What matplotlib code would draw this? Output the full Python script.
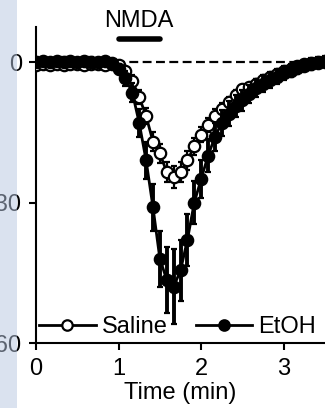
import numpy as np
import matplotlib
matplotlib.use("Agg")
import matplotlib.pyplot as plt
from matplotlib.patches import Rectangle

# time points every 5 s (min)
time_min = np.arange(43) / 12.0

saline = [-0.6, -0.4, -0.7, -0.5, -0.6, -0.3, -0.5, -0.7, -0.4, -0.5, -0.6, -0.4,
          -0.6, -2.0, -4.0, -7.5, -11.5, -17.0, -19.5, -23.5, -24.5, -23.5, -21.0,
          -18.0, -15.5, -13.5, -11.5, -10.0, -8.6, -7.0, -5.8, -5.4, -4.6, -3.9,
          -3.2, -2.6, -1.9, -1.4, -0.9, -0.5, -0.2, 0.0, 0.1]
saline_sem = [0.6, 0.5, 0.6, 0.5, 0.6, 0.5, 0.6, 0.5, 0.6, 0.5, 0.6, 0.5,
              0.7, 1.0, 1.2, 1.5, 1.8, 2.0, 2.0, 2.2, 2.3, 2.2, 2.0,
              1.8, 1.6, 1.5, 1.4, 1.3, 1.2, 1.1, 1.0, 1.0, 0.9, 0.9,
              0.8, 0.8, 0.7, 0.7, 0.6, 0.6, 0.6, 0.5, 0.5]

etoh = [0.1, 0.2, 0.0, 0.3, 0.1, 0.2, 0.0, 0.3, 0.1, 0.0, 0.2, -0.2,
        -1.5, -3.5, -6.5, -13.0, -21.0, -31.0, -42.0, -46.5, -48.0, -44.5, -38.0,
        -30.0, -25.0, -20.0, -16.0, -13.0, -11.0, -9.4, -8.2, -6.8, -5.6, -4.6,
        -3.8, -3.1, -2.4, -1.8, -1.2, -0.8, -0.4, -0.1, 0.2]
etoh_sem = [0.9, 0.8, 0.9, 0.8, 0.9, 0.8, 0.9, 0.8, 0.9, 0.8, 0.9, 0.9,
            1.0, 1.5, 2.0, 3.0, 4.0, 5.0, 6.0, 7.0, 8.0, 6.5, 5.5,
            4.5, 4.0, 3.5, 3.0, 2.8, 2.6, 2.4, 2.2, 2.0, 1.9, 1.8,
            1.7, 1.6, 1.5, 1.4, 1.3, 1.2, 1.2, 1.1, 1.0]

nmda_on = [1.0, 1.5]

plt.rcParams['font.family'] = ['Liberation Sans', 'DejaVu Sans']
FS = 17

fig = plt.figure(figsize=(3.25, 4.08), dpi=100)
ax = fig.add_axes([36 / 325, 65 / 408, 289 / 325, 316 / 408])

ax.axhline(0, color='black', lw=1.6, ls=(0, (4, 2)), zorder=1)

ax.errorbar(time_min, saline, yerr=saline_sem, color='black', lw=2,
            marker='o', ms=8.2, mfc='white', mec='black', mew=1.6,
            elinewidth=1.6, capsize=2, capthick=1.6, zorder=3)
ax.errorbar(time_min, etoh, yerr=etoh_sem, color='black', lw=2,
            marker='o', ms=8.2, mfc='black', mec='black', mew=1.6,
            elinewidth=2.8, capsize=2, capthick=1.6, zorder=4)

# legend handles
h1, = ax.plot([], [], color='black', lw=2, marker='o', ms=7.5, mfc='white', mew=1.6)
h2, = ax.plot([], [], color='black', lw=2, marker='o', ms=7.5, mfc='black', mew=1.6)
ax.legend([h1, h2], ['Saline', 'EtOH'], ncol=2, frameon=False, fontsize=FS,
          loc='center left', bbox_to_anchor=(0.01, 0.05), borderpad=0,
          borderaxespad=0, handlelength=2.4, handletextpad=0.25,
          columnspacing=1.2)

# NMDA bar
ax.plot(nmda_on, [4.9, 4.9], color='black', lw=4, solid_capstyle='round',
        clip_on=False)
ax.text(np.mean(nmda_on), 6.5, 'NMDA', ha='center', va='bottom', fontsize=FS,
        clip_on=False)

ax.set_xlim(0, 3.5)
ax.set_ylim(-60, 7.5)
ax.set_xticks([0, 1, 2, 3])
ax.set_yticks([0, -30, -60])
ax.set_xlabel('Time (min)', fontsize=FS, labelpad=1)
for s in ['top', 'right']:
    ax.spines[s].set_visible(False)
for s in ['left', 'bottom']:
    ax.spines[s].set_linewidth(1.5)
ax.tick_params(labelsize=FS, width=1.5, length=5)
ax.tick_params(axis='x', pad=6)
ax.tick_params(axis='y', pad=5)

# light blue strip over the left edge
fig.patches.append(Rectangle((0, 0), 17 / 325, 1, transform=fig.transFigure,
                             facecolor='#b7c7e1', alpha=0.5, edgecolor='none',
                             zorder=10))

fig.savefig('out.png', dpi=100)
